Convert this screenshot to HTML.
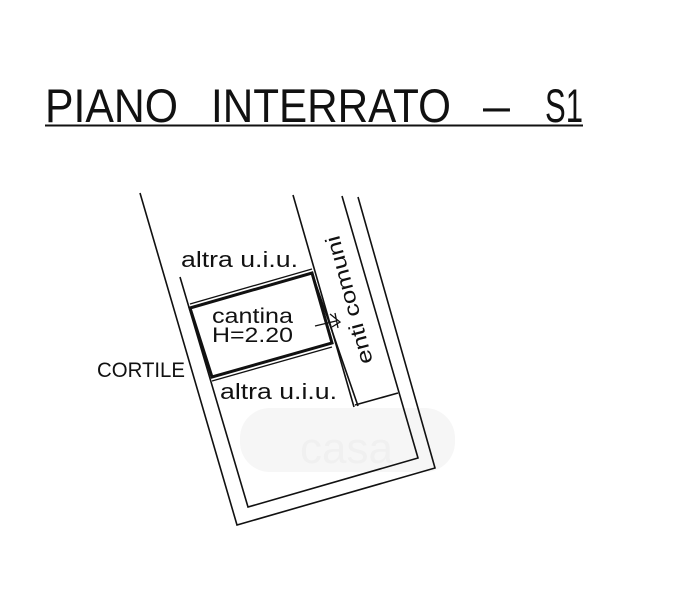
<!DOCTYPE html>
<html><head><meta charset="utf-8"><style>
html,body{margin:0;padding:0;background:#fff;}
svg{display:block;}
text{font-family:"Liberation Sans",sans-serif;fill:#111;}
</style></head><body>
<svg width="680" height="600" viewBox="0 0 680 600" xmlns="http://www.w3.org/2000/svg">
<rect width="680" height="600" fill="#fff"/>
<rect x="240" y="408" width="215" height="64" rx="30" fill="#f6f6f6"/>
<text x="300" y="463" font-size="44" style="fill:#f0f0f0">casa</text>
<g transform="translate(0,122) scale(1,1.25)">
<text x="45" y="0" font-size="38" textLength="133" lengthAdjust="spacingAndGlyphs">PIANO</text>
<text x="211" y="0" font-size="38" textLength="240" lengthAdjust="spacingAndGlyphs">INTERRATO</text>
<text x="483" y="0" font-size="38" textLength="27" lengthAdjust="spacingAndGlyphs">–</text>
<text x="545" y="0" font-size="38" textLength="38" lengthAdjust="spacingAndGlyphs">S1</text>
</g>
<line x1="45" y1="125.5" x2="583" y2="125.5" stroke="#111" stroke-width="2"/>
<g fill="none" stroke="#111" stroke-width="1.6">
<polyline points="140,193 237,525 435,468 358,197"/>
<polyline points="180,277 248,507 418,458 342,196"/>
<line x1="293" y1="195" x2="354" y2="407"/>
<line x1="312" y1="273" x2="358" y2="406"/>
<polyline points="355,405 398,393"/>
</g>
<polygon points="190,308 312,273 332,343 212,377" fill="none" stroke="#111" stroke-width="3"/>
<line x1="190" y1="304" x2="312" y2="269" stroke="#111" stroke-width="1.3"/>
<line x1="212" y1="381" x2="332" y2="347" stroke="#111" stroke-width="1.3"/>
<line x1="315" y1="326" x2="336" y2="321" stroke="#111" stroke-width="1.3"/>
<path d="M330,314 L340,322 L332,327 M335,313 L338,328" fill="none" stroke="#111" stroke-width="1.3"/>
<text x="181" y="267" font-size="22" textLength="117" lengthAdjust="spacingAndGlyphs">altra u.i.u.</text>
<text x="212" y="323" font-size="21" textLength="81" lengthAdjust="spacingAndGlyphs">cantina</text>
<text x="212" y="342" font-size="21" textLength="81" lengthAdjust="spacingAndGlyphs">H=2.20</text>
<text x="220" y="399" font-size="22" textLength="117" lengthAdjust="spacingAndGlyphs">altra u.i.u.</text>
<text x="97" y="377" font-size="21" textLength="88" lengthAdjust="spacingAndGlyphs">CORTILE</text>
<text x="0" y="0" font-size="21" textLength="132" lengthAdjust="spacingAndGlyphs" transform="translate(373,362) rotate(-105)">enti comuni</text>
</svg>
</body></html>
